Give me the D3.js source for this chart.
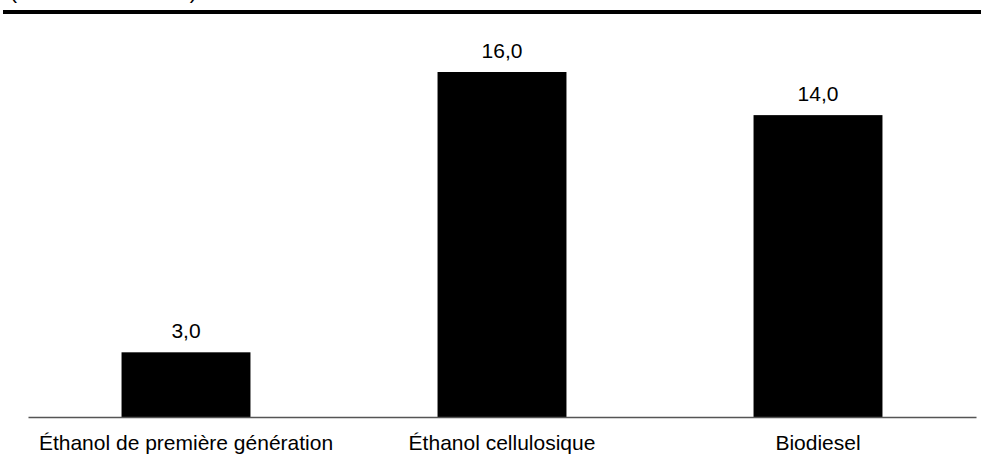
<!DOCTYPE html>
<html>
<head>
<meta charset="utf-8">
<script src="https://cdn.jsdelivr.net/npm/d3@7"></script>
<style>
  html, body { margin: 0; padding: 0; background: #ffffff; }
  svg { display: block; font-family: "Liberation Sans", Arial, sans-serif; }
</style>
</head>
<body>
<div id="chart"></div>
<script>
const categories = ["Éthanol de première génération", "Éthanol cellulosique", "Biodiesel"];
const values = [3.0, 16.0, 14.0];
const unitLabel = "(en dollars de 2006)";

const WIDTH = 981;
const HEIGHT = 464;
const MARGIN = { top: 72, right: 5, bottom: 47, left: 28 };
const FONT_SIZE = 21;

const svg = d3.select("#chart")
  .append("svg")
  .attr("width", WIDTH)
  .attr("height", HEIGHT);

const x = d3.scaleBand()
  .domain(categories)
  .range([MARGIN.left, WIDTH - MARGIN.right])
  .paddingInner(0.592)
  .paddingOuter(0.296);

const y = d3.scaleLinear()
  .domain([0, d3.max(values)])
  .range([HEIGHT - MARGIN.bottom, MARGIN.top]);

const fmt = (v) => d3.format(".1f")(v).replace(".", ",");

// unit note, cut off by the top edge like in the source
svg.append("text")
  .attr("x", 10)
  .attr("y", -1)
  .attr("font-size", FONT_SIZE)
  .attr("fill", "#000")
  .text(unitLabel);

// heavy rule under the title
svg.append("rect")
  .attr("x", 3)
  .attr("y", 10)
  .attr("width", WIDTH - 3)
  .attr("height", 4)
  .attr("fill", "#000");

const rows = categories.map((c, i) => ({ category: c, value: values[i] }));

svg.append("g")
  .selectAll("rect")
  .data(rows)
  .join("rect")
  .attr("x", (d) => x(d.category))
  .attr("y", (d) => y(d.value))
  .attr("width", x.bandwidth())
  .attr("height", (d) => y(0) - y(d.value))
  .attr("fill", "#000");

svg.append("g")
  .selectAll("text")
  .data(rows)
  .join("text")
  .attr("x", (d) => x(d.category) + x.bandwidth() / 2)
  .attr("y", (d) => y(d.value) - 14)
  .attr("text-anchor", "middle")
  .attr("font-size", FONT_SIZE)
  .attr("fill", "#000")
  .text((d) => fmt(d.value));

// baseline axis
const axis = svg.append("g")
  .attr("transform", `translate(0,${y(0)})`)
  .attr("font-size", FONT_SIZE)
  .attr("font-family", "\"Liberation Sans\", Arial, sans-serif")
  .call(d3.axisBottom(x).tickSize(0).tickPadding(0));

axis.select(".domain").attr("stroke", "#555").attr("stroke-width", 1.3);
axis.selectAll("text")
  .attr("font-size", FONT_SIZE)
  .attr("fill", "#000")
  .attr("dy", null)
  .attr("y", 33);
</script>
</body>
</html>
